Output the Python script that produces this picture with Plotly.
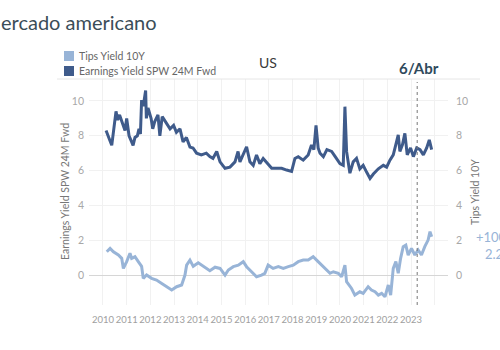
import plotly.graph_objects as go

# ---- data ----
earn_x = [2010.13, 2010.20, 2010.30, 2010.37, 2010.45, 2010.55, 2010.62, 2010.70, 2010.80, 2010.93,
          2011.00, 2011.10, 2011.21, 2011.27, 2011.35, 2011.45, 2011.52, 2011.58, 2011.63, 2011.70,
          2011.80, 2011.83, 2011.90, 2011.97, 2012.03, 2012.10, 2012.18, 2012.32, 2012.40, 2012.50,
          2012.65, 2012.83, 2012.98, 2013.10, 2013.25, 2013.38, 2013.52, 2013.67, 2013.80, 2013.95,
          2014.15, 2014.36, 2014.51, 2014.64, 2014.80, 2014.94, 2015.15, 2015.36, 2015.57, 2015.70,
          2015.78, 2015.92, 2016.06, 2016.20, 2016.34, 2016.48, 2016.62, 2016.76, 2016.97, 2017.12,
          2017.33, 2017.54, 2017.75, 2017.96, 2018.10, 2018.24, 2018.45, 2018.66, 2018.80, 2018.90,
          2018.99, 2019.08, 2019.16, 2019.30, 2019.45, 2019.65, 2019.80, 2020.00, 2020.14, 2020.21,
          2020.28, 2020.42, 2020.56, 2020.70, 2020.84, 2020.98, 2021.13, 2021.27, 2021.41, 2021.62,
          2021.83, 2021.97, 2022.11, 2022.25, 2022.39, 2022.46, 2022.53, 2022.64, 2022.74, 2022.84,
          2022.98, 2023.10, 2023.24, 2023.38, 2023.52, 2023.66, 2023.77, 2023.87]
earn_y = [8.3, 8.0, 7.7, 7.45, 8.4, 9.4, 8.9, 9.2, 8.8, 8.3,
          9.0, 8.0, 7.65, 7.45, 7.9, 8.0, 8.4, 8.1, 10.05, 9.7,
          10.6, 9.0, 9.6, 9.2, 9.0, 8.4, 8.8, 9.2, 8.0, 9.1,
          8.8, 8.4, 8.6, 8.2, 8.4, 7.65, 7.9, 7.35, 7.3, 7.0,
          6.9, 7.0, 6.8, 6.7, 7.1, 6.5, 6.13, 6.2, 6.5, 7.1,
          6.5, 6.9, 7.37, 6.5, 6.3, 6.9, 6.4, 6.7, 6.4, 6.13,
          6.13, 6.13, 6.03, 5.95, 6.7, 6.8, 6.6, 6.9, 7.47, 7.2,
          8.6, 7.3, 7.0, 6.8, 7.2, 7.1, 6.8, 6.4, 6.3, 9.67,
          7.1, 5.85, 6.5, 6.7, 6.1, 6.3, 5.9, 5.55, 5.8, 6.1,
          6.3, 6.2, 6.6, 6.9, 7.66, 8.05, 7.1, 7.5, 8.14, 6.9,
          7.3, 6.8, 7.3, 7.2, 6.9, 7.3, 7.76, 7.2]

tips_x = [2010.16, 2010.30, 2010.44, 2010.65, 2010.79, 2010.86, 2011.00, 2011.14, 2011.21, 2011.35,
          2011.49, 2011.63, 2011.70, 2011.84, 2012.05, 2012.26, 2012.48, 2012.69, 2012.90, 2013.11,
          2013.32, 2013.46, 2013.53, 2013.67, 2013.81, 2014.02, 2014.23, 2014.51, 2014.73, 2014.94,
          2015.15, 2015.29, 2015.50, 2015.71, 2015.92, 2016.06, 2016.27, 2016.48, 2016.69, 2016.83,
          2016.97, 2017.18, 2017.40, 2017.61, 2017.82, 2018.03, 2018.24, 2018.45, 2018.66, 2018.87,
          2019.08, 2019.30, 2019.58, 2019.72, 2019.93, 2020.07, 2020.21, 2020.28, 2020.49, 2020.63,
          2020.84, 2020.98, 2021.19, 2021.33, 2021.48, 2021.62, 2021.76, 2021.90, 2022.04, 2022.14,
          2022.25, 2022.36, 2022.46, 2022.56, 2022.67, 2022.78, 2022.88, 2023.02, 2023.16, 2023.30,
          2023.44, 2023.58, 2023.72, 2023.80, 2023.87]
tips_y = [1.34, 1.53, 1.34, 1.15, 0.96, 0.38, 0.77, 1.25, 0.96, 1.05,
          0.77, 0.5, -0.19, 0.0, -0.19, -0.29, -0.48, -0.67, -0.86, -0.67,
          -0.57, 0.0, 0.57, 0.86, 0.5, 0.7, 0.5, 0.25, 0.45, 0.38,
          0.0, 0.29, 0.48, 0.57, 0.77, 0.48, 0.19, -0.1, 0.0, 0.1,
          0.57, 0.38, 0.48, 0.38, 0.48, 0.57, 0.77, 0.86, 0.86, 1.05,
          0.77, 0.48, 0.1, 0.19, 0.1, -0.1, 0.57, -0.38, -0.77, -1.15,
          -0.96, -1.05, -0.67, -0.86, -0.96, -1.15, -1.05, -1.25, -0.57, -1.15,
          0.38, 0.77, 0.1, 0.96, 1.63, 1.72, 1.15, 1.53, 1.15, 1.44,
          1.15, 1.63, 2.01, 2.49, 2.2]

year_ticks = list(range(2010, 2025))
year_labels = [str(y) for y in range(2010, 2024)] + [""]
y_ticks = [0, 2, 4, 6, 8, 10]
marker_date = 2023.26  # 6/Abr

DARK = "#3f5b8b"
LIGHT = "#98b4d7"

# ---- layout in pixels ----
W, H = 500, 350
L, R, T, B = 89, 448, 79, 305


def px(x):
    return (x - L) / (R - L)


def py(y):
    return (B - y) / (B - T)


fig = go.Figure()
fig.add_trace(go.Scatter(x=tips_x, y=tips_y, mode="lines", name="Tips Yield 10Y",
                         line=dict(color=LIGHT, width=3), yaxis="y2", showlegend=False))
fig.add_trace(go.Scatter(x=earn_x, y=earn_y, mode="lines", name="Earnings Yield SPW 24M Fwd",
                         line=dict(color=DARK, width=3), showlegend=False))

yr = [-1.72, 11.26]
axis_font = dict(family="Lato", size=10.5, color="#a8a8a8")
fig.update_layout(
    width=W, height=H,
    margin=dict(l=L, r=W - R, t=T, b=H - B),
    paper_bgcolor="white", plot_bgcolor="white",
    font=dict(family="Lato"),
    xaxis=dict(range=[2009.41, 2024.56], tickvals=year_ticks, ticktext=year_labels, tickangle=0,
               showgrid=True, gridcolor="#f1f1f1", gridwidth=1, zeroline=False,
               tickfont=dict(family="Lato", size=9.5, color="#a0a0a0"), ticks="", showline=False,
               ticklabelstandoff=7),
    yaxis=dict(range=yr, tickvals=y_ticks, showgrid=True, gridcolor="#f1f1f1",
               zeroline=True, zerolinecolor="#d6d6d6", zerolinewidth=1,
               tickfont=axis_font, ticks="", ticklabelstandoff=4),
    yaxis2=dict(range=yr, tickvals=y_ticks, overlaying="y", side="right", showgrid=False,
                zeroline=False, tickfont=axis_font, ticks="", ticklabelstandoff=7),
)

shapes = []
# top divider line
shapes.append(dict(type="line", xref="paper", yref="paper", x0=px(57), x1=px(480), y0=py(79), y1=py(79),
                   line=dict(color="#e6e6e6", width=1)))
# dotted date marker
shapes.append(dict(type="line", xref="x", yref="paper", x0=marker_date, x1=marker_date, y0=0, y1=py(82),
                   line=dict(color="#777777", width=1, dash="dot")))
# legend swatches
shapes.append(dict(type="rect", xref="paper", yref="paper", x0=px(64), x1=px(74), y0=py(61), y1=py(51),
                   fillcolor=LIGHT, line=dict(width=0)))
shapes.append(dict(type="rect", xref="paper", yref="paper", x0=px(64), x1=px(74), y0=py(76), y1=py(66),
                   fillcolor=DARK, line=dict(width=0)))
fig.update_layout(shapes=shapes)

ann = []


def text(x, y, s, size, color, xanchor="left", bold=False, angle=0):
    ann.append(dict(xref="paper", yref="paper", x=px(x), y=py(y), text=("<b>%s</b>" % s) if bold else s,
                    showarrow=False, xanchor=xanchor, yanchor="middle", textangle=angle,
                    font=dict(family="Lato", size=size, color=color)))


text(-1, 22, "ercado americano", 20, "#3b4d58")
text(77, 56, "Tips Yield 10Y", 10.5, "#666666")
text(77, 71, "Earnings Yield SPW 24M Fwd", 10.5, "#666666")
text(268, 63, "US", 14, "#3a3a3a", xanchor="center")
text(419, 68, "6/Abr", 15, "#2f4a5c", xanchor="center", bold=True)
text(65, 192, "Earnings Yield SPW 24M Fwd", 10.5, "#777777", xanchor="center", angle=-90)
text(475, 192, "Tips Yield 10Y", 10.5, "#777777", xanchor="center", angle=-90)
text(474, 237, "+100", 13, LIGHT)
text(483, 254, "2.2", 13, LIGHT)
fig.update_layout(annotations=ann)

fig.write_html("out.html")
